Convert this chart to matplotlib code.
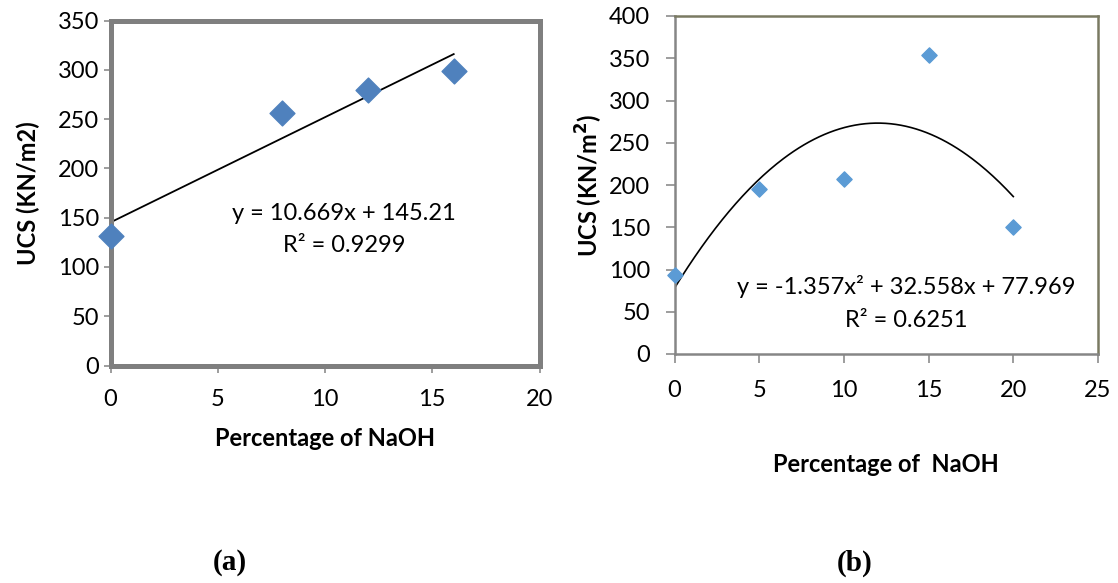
import numpy as np
import matplotlib
matplotlib.use("Agg")
import matplotlib.pyplot as plt

# Panel (a): UCS versus NaOH content, linear trend
naoh_a = [0, 8, 12, 16]
ucs_a = [131, 256, 280, 299]
lin_coef = [10.669, 145.21]          # slope, intercept
r2_a = 0.9299

# Panel (b): UCS versus NaOH content, quadratic trend
naoh_b = [0, 5, 10, 15, 20]
ucs_b = [94, 195, 207, 354, 150]
quad_coef = [-1.357, 32.558, 77.969]  # x^2, x, constant
r2_b = 0.6251

xticks_a = [0, 5, 10, 15, 20]
yticks_a = [0, 50, 100, 150, 200, 250, 300, 350]
xticks_b = [0, 5, 10, 15, 20, 25]
yticks_b = [0, 50, 100, 150, 200, 250, 300, 350, 400]

W, H = 1118, 583
fig = plt.figure(figsize=(W / 100, H / 100), dpi=100)
FONT = "Lato"
FS = 17


def frac(x0, y0, x1, y1):
    return [x0 / W, 1 - y1 / H, (x1 - x0) / W, (y1 - y0) / H]


# ---- (a) ----
ax1 = fig.add_axes(frac(110.5, 20.5, 539.5, 365.5))
ax1.scatter(naoh_a, ucs_a, marker="D", s=160, color="#4F81BD", zorder=3,
            edgecolors="#4F81BD", clip_on=False)
xa = np.linspace(min(naoh_a), max(naoh_a), 50)
ax1.plot(xa, np.polyval(lin_coef, xa), color="black", lw=1.3, zorder=2)
ax1.set_xlim(0, 20)
ax1.set_ylim(0, 350)
ax1.set_xticks(xticks_a)
ax1.set_yticks(yticks_a)
for s in ax1.spines.values():
    s.set_linewidth(3.6)
    s.set_color("#7F7F7F")
ax1.tick_params(direction="out", length=5, width=1.2, color="#8C8C8C",
                labelsize=FS)
ax1.tick_params(axis="y", pad=3)
ax1.tick_params(axis="x", pad=12)
for lab in ax1.get_xticklabels() + ax1.get_yticklabels():
    lab.set_fontfamily(FONT)
ax1.set_xlabel("Percentage of NaOH", fontsize=FS, fontweight="bold",
               family=FONT, labelpad=12)
ax1.set_ylabel("UCS (KN/m2)", fontsize=FS, fontweight="bold",
               family=FONT, labelpad=13)
ax1.text(10.89, 154.7, f"y = {lin_coef[0]}x + {lin_coef[1]}", ha="center",
         va="center", fontsize=FS, family=FONT)
ax1.text(10.89, 122.2, f"R² = {r2_a}", ha="center", va="center",
         fontsize=FS, family=FONT)

# ---- (b) ----
ax2 = fig.add_axes(frac(674.5, 16, 1098, 354))
ax2.scatter(naoh_b, ucs_b, marker="D", s=60, color="#5B9BD5", zorder=3,
            edgecolors="#5B9BD5", clip_on=False)
xb = np.linspace(min(naoh_b), max(naoh_b), 200)
ax2.plot(xb, np.polyval(quad_coef, xb), color="black", lw=1.2, zorder=2)
ax2.set_xlim(0, 25)
ax2.set_ylim(0, 400)
ax2.set_xticks(xticks_b)
ax2.set_yticks(yticks_b)
for side in ("left", "bottom"):
    ax2.spines[side].set_linewidth(1.8)
    ax2.spines[side].set_color("#868686")
for side in ("top", "right"):
    ax2.spines[side].set_linewidth(1.8)
    ax2.spines[side].set_color("#7A7A62")
ax2.tick_params(direction="out", length=6.5, width=1.2, color="#8C8C8C",
                labelsize=FS)
ax2.tick_params(axis="y", pad=11)
ax2.tick_params(axis="x", pad=12)
for lab in ax2.get_xticklabels() + ax2.get_yticklabels():
    lab.set_fontfamily(FONT)
ax2.set_xlabel("Percentage of  NaOH", fontsize=FS, fontweight="bold",
               family=FONT, labelpad=38)
ax2.set_ylabel("UCS (KN/m$^\\mathbf{2}$)", fontsize=FS, fontweight="bold",
               family=FONT, labelpad=2.5)
ax2.text(13.7, 79.3, "y = -1.357x² + 32.558x + 77.969", ha="center",
         va="center", fontsize=FS, family=FONT)
ax2.text(13.7, 40.2, f"R² = {r2_b}", ha="center", va="center",
         fontsize=FS, family=FONT)

# Panel captions
fig.text(230 / W, 1 - 563 / H, "(a)", ha="center", va="center",
         fontsize=21, fontweight="bold", family="Liberation Serif")
fig.text(855 / W, 1 - 563 / H, "(b)", ha="center", va="center",
         fontsize=21, fontweight="bold", family="Liberation Serif")

fig.savefig("out.png", dpi=100, facecolor="white")
